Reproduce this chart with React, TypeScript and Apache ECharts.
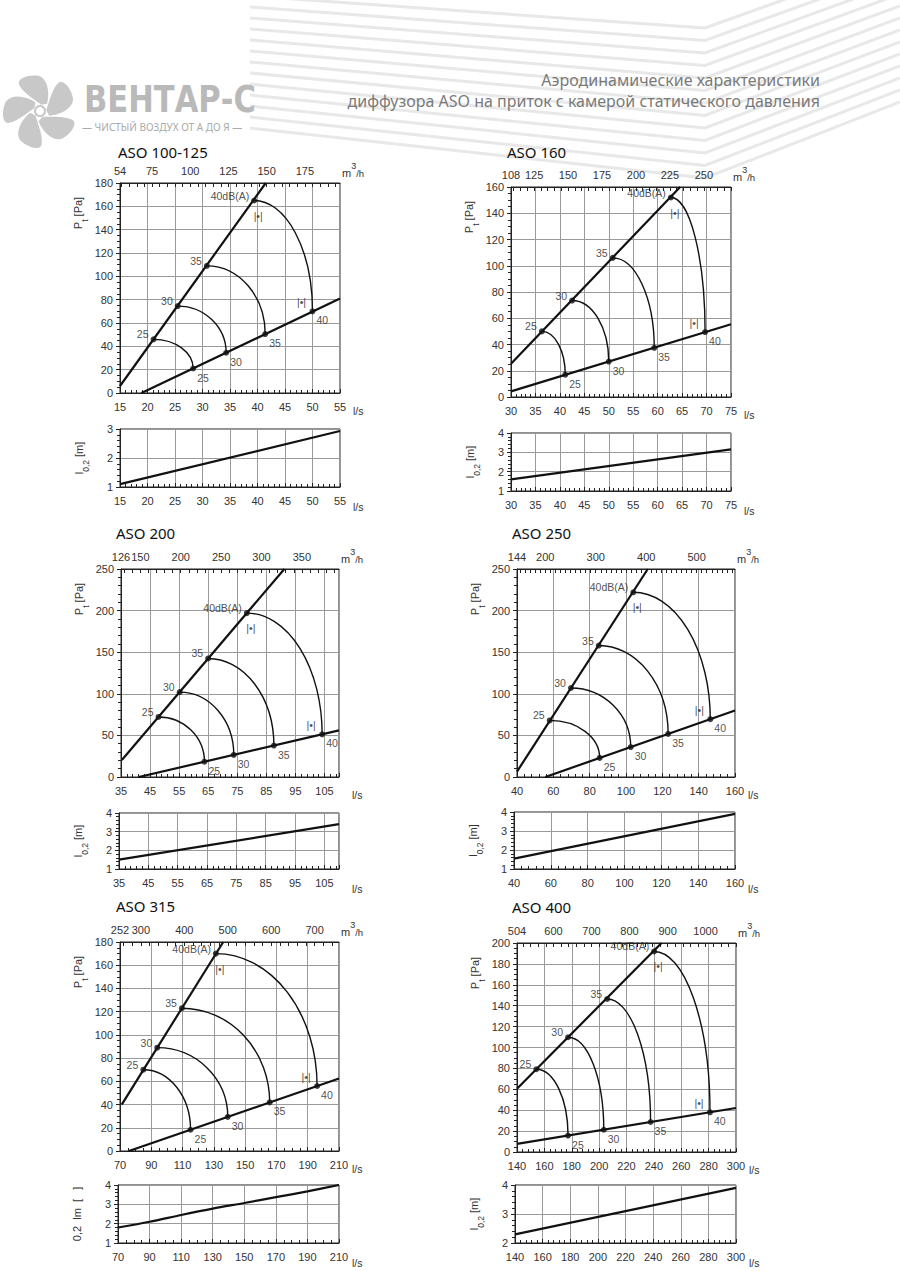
import React, { useEffect, useRef } from "react";
import * as echarts from "echarts";

const AXIS_FONT = "'Liberation Sans', Arial, sans-serif";
const TITLE_FONT = "'Noto Sans', Inter, sans-serif";

const UPPER_LABELS = ["25", "30", "35", "40dB(A)"];
const LOWER_LABELS = ["25", "30", "35", "40"];

// ---- ASO 100-125 ----
const P1_TOP_TICKS = [54, 75, 100, 125, 150, 175];
const P1_UPPER_LINE = [[15, 6], [41.5, 180]];
const P1_LOWER_LINE = [[18.9, 0], [55, 81]];
const P1_UPPER_PTS = [[21.1, 46], [25.5, 74.5], [30.8, 109], [39.4, 165]];
const P1_LOWER_PTS = [[28.3, 21], [34.3, 34.5], [41.4, 50.5], [50, 70]];
const P1_THROW = [[15, 1.1], [55, 2.93]];

// ---- ASO 160 ----
const P2_TOP_TICKS = [108, 125, 150, 175, 200, 225, 250];
const P2_UPPER_LINE = [[30, 25.3], [64.6, 160]];
const P2_LOWER_LINE = [[30, 4.3], [75, 55.4]];
const P2_UPPER_PTS = [[36.3, 50], [42.5, 73.5], [50.8, 106], [62.7, 152]];
const P2_LOWER_PTS = [[41.1, 17], [50, 27], [59.3, 37.5], [69.7, 49.5]];
const P2_THROW = [[30, 1.6], [75, 3.15]];

// ---- ASO 200 ----
const P3_TOP_TICKS = [126, 150, 200, 250, 300, 350];
const P3_UPPER_LINE = [[35.3, 20.5], [91.2, 250]];
const P3_LOWER_LINE = [[41.1, 0], [110, 56]];
const P3_UPPER_PTS = [[47.9, 72.2], [55.2, 102], [65, 142.5], [78.3, 197]];
const P3_LOWER_PTS = [[63.7, 18.4], [73.8, 26.6], [87.6, 37.8], [104.2, 51.3]];
const P3_THROW = [[35, 1.5], [110, 3.4]];

// ---- ASO 250 ----
const P4_TOP_TICKS = [144, 200, 300, 400, 500];
const P4_UPPER_LINE = [[40, 6.5], [112, 250]];
const P4_LOWER_LINE = [[55.6, 0], [160, 80]];
const P4_UPPER_PTS = [[58, 68], [69.7, 107], [85, 158], [104, 222]];
const P4_LOWER_PTS = [[85.5, 23], [102.6, 36], [123.2, 51.8], [146.4, 69.5]];
const P4_THROW = [[40, 1.55], [160, 3.9]];

// ---- ASO 315 ----
const P5_TOP_TICKS = [252, 300, 400, 500, 600, 700];
const P5_UPPER_LINE = [[71.1, 40], [136, 180]];
const P5_LOWER_LINE = [[75.7, 0], [210, 62.5]];
const P5_UPPER_PTS = [[84.9, 70], [93.8, 89], [109.6, 123], [131.3, 170]];
const P5_LOWER_PTS = [[115.1, 18.3], [138.9, 29.4], [165.7, 41.9], [196, 56]];
const P5_THROW = [[70, 1.8], [90, 2.1], [110, 2.45], [130, 2.78], [150, 3.07], [170, 3.37], [190, 3.67], [210, 4.0]];

// ---- ASO 400 ----
const P6_TOP_TICKS = [504, 600, 700, 800, 900, 1000];
const P6_UPPER_LINE = [[140, 60.6], [245.6, 200]];
const P6_LOWER_LINE = [[140, 7.7], [300, 42.1]];
const P6_UPPER_PTS = [[154.1, 79.2], [177.3, 109.8], [205.9, 146.4], [240.2, 191.9]];
const P6_LOWER_PTS = [[177.3, 15.7], [203.4, 21.3], [237.6, 28.7], [281, 38]];
const P6_THROW = [[140, 2.3], [300, 3.9]];

const PANELS = [
  { title: "ASO 100-125", titleXY: [118, 152], main: [120, 183, 220, 210], small: [120, 429, 220, 58],
    xMin: 15, xMax: 55, xInt: 5, xMinor: 5, yMax: 180, yInt: 20, yMinor: 4, sMin: 1, sMax: 3,
    top: P1_TOP_TICKS, topStep: 5, up: P1_UPPER_LINE, low: P1_LOWER_LINE, upPts: P1_UPPER_PTS, lowPts: P1_LOWER_PTS, thr: P1_THROW, showMax: true, sName: "l" },
  { title: "ASO 160", titleXY: [507, 152], main: [511, 187, 220, 210], small: [511, 433, 220, 58],
    xMin: 30, xMax: 75, xInt: 5, xMinor: 5, yMax: 160, yInt: 20, yMinor: 4, sMin: 1, sMax: 4,
    top: P2_TOP_TICKS, topStep: 5, up: P2_UPPER_LINE, low: P2_LOWER_LINE, upPts: P2_UPPER_PTS, lowPts: P2_LOWER_PTS, thr: P2_THROW, showMax: true, sName: "l" },
  { title: "ASO 200", titleXY: [116, 533], main: [121, 569, 218, 208], small: [119, 813, 220, 56],
    xMin: 35, xMax: 110, xInt: 10, xMinor: 5, yMax: 250, yInt: 50, yMinor: 5, sMin: 1, sMax: 4,
    top: P3_TOP_TICKS, topStep: 10, up: P3_UPPER_LINE, low: P3_LOWER_LINE, upPts: P3_UPPER_PTS, lowPts: P3_LOWER_PTS, thr: P3_THROW, showMax: false, sName: "l" },
  { title: "ASO 250", titleXY: [512, 533], main: [517, 569, 218, 208], small: [514, 812, 221, 57],
    xMin: 40, xMax: 160, xInt: 20, xMinor: 5, yMax: 250, yInt: 50, yMinor: 5, sMin: 1, sMax: 4,
    top: P4_TOP_TICKS, topStep: 10, up: P4_UPPER_LINE, low: P4_LOWER_LINE, upPts: P4_UPPER_PTS, lowPts: P4_LOWER_PTS, thr: P4_THROW, showMax: true, sName: "l" },
  { title: "ASO 315", titleXY: [116, 906], main: [120, 942, 219, 209], small: [118, 1185, 221, 58],
    xMin: 70, xMax: 210, xInt: 20, xMinor: 4, yMax: 180, yInt: 20, yMinor: 4, sMin: 1, sMax: 4,
    top: P5_TOP_TICKS, topStep: 20, up: P5_UPPER_LINE, low: P5_LOWER_LINE, upPts: P5_UPPER_PTS, lowPts: P5_LOWER_PTS, thr: P5_THROW, showMax: true, sName: "broken" },
  { title: "ASO 400", titleXY: [512, 907], main: [517, 943, 219, 209], small: [515, 1185, 221, 58],
    xMin: 140, xMax: 300, xInt: 20, xMinor: 5, yMax: 200, yInt: 20, yMinor: 4, sMin: 2, sMax: 4,
    top: P6_TOP_TICKS, topStep: 20, up: P6_UPPER_LINE, low: P6_LOWER_LINE, upPts: P6_UPPER_PTS, lowPts: P6_LOWER_PTS, thr: P6_THROW, showMax: true, sName: "l" },
];

const BLADE_D = "M 2 -6 C -6 -14 -16 -23 -17 -30 C -17 -36 -5 -38 4 -35 C 12 -31 13 -17 8 -6 Z";
echarts.graphic.registerShape("fanblade", echarts.graphic.extendPath(BLADE_D, {}));

const INK = "#111";
const GRID_LINE = "#9a9a9a";
const LABEL_COLOR = "#222";

function mkGrid(r: number[]) {
  return { left: r[0], top: r[1], width: r[2], height: r[3], show: true, borderColor: "#222", borderWidth: 1, backgroundColor: "transparent" };
}

function bottomX(gridIndex: number, p: any) {
  return {
    type: "value", gridIndex, position: "bottom", min: p.xMin, max: p.xMax, interval: p.xInt,
    axisLine: { show: true, lineStyle: { color: "#222", width: 1 } },
    axisTick: { show: true, inside: true, length: 4, lineStyle: { color: "#222" } },
    minorTick: { show: true, splitNumber: p.xMinor, length: 3, lineStyle: { color: "#222" } },
    splitLine: { show: true, lineStyle: { color: GRID_LINE, width: 1 } },
    axisLabel: { color: "#333", fontSize: 11, fontFamily: AXIS_FONT, margin: 8, showMaxLabel: p.showMax, showMinLabel: true, formatter: (v: number) => String(v) },
  };
}

function topX(gridIndex: number, p: any) {
  const lo = Math.round(p.xMin * 3.6 * 1000) / 1000;
  const hi = Math.round(p.xMax * 3.6 * 1000) / 1000;
  const set = new Set<number>(p.top);
  for (let t = Math.ceil(lo / p.topStep) * p.topStep; t <= hi; t += p.topStep) set.add(t);
  const ticks = Array.from(set).sort((a, b) => a - b);
  return {
    type: "value", gridIndex, position: "top", min: lo, max: hi,
    axisLine: { show: true, lineStyle: { color: "#222", width: 1 } },
    axisTick: { show: true, inside: true, length: 4, customValues: ticks, lineStyle: { color: "#222" } },
    splitLine: { show: false },
    axisLabel: { color: "#333", fontSize: 11, fontFamily: AXIS_FONT, margin: 7, customValues: p.top, showMaxLabel: true, showMinLabel: true, formatter: (v: number) => String(v) },
  };
}

function leftY(gridIndex: number, min: number, max: number, interval: number, minor: number) {
  return {
    type: "value", gridIndex, min, max, interval,
    axisLine: { show: true, lineStyle: { color: "#222", width: 1 } },
    axisTick: { show: true, length: 4, lineStyle: { color: "#222" } },
    minorTick: { show: true, splitNumber: minor, length: 3, lineStyle: { color: "#222" } },
    splitLine: { show: true, lineStyle: { color: GRID_LINE, width: 1 } },
    axisLabel: { color: "#333", fontSize: 11, fontFamily: AXIS_FONT, margin: 7, formatter: (v: number) => String(v) },
  };
}

function buildOption() {
  const grid: any[] = [];
  const xAxis: any[] = [];
  const yAxis: any[] = [];
  const series: any[] = [];
  const graphic: any[] = [];

  // background chevron stripes
  for (let k = 0; k < 13; k++) {
    graphic.push({
      type: "polyline", z: -10, silent: true,
      shape: { points: [[250, k * 11 - 4], [705, 28 + k * 12.5], [900, -42 + k * 12]] },
      style: { stroke: "#e8e8e8", lineWidth: 3, fill: null },
    });
  }

  // logo fan
  const blades: any[] = [];
  for (let k = 0; k < 5; k++) {
    blades.push({ type: "fanblade", rotation: (k * 2 * Math.PI) / 5 + 0.15, style: { fill: "#c8c8c8", stroke: null } });
  }
  blades.push({ type: "circle", shape: { cx: 0, cy: 0, r: 5 }, style: { fill: "#fff", stroke: "#c8c8c8", lineWidth: 2 } });
  graphic.push({ type: "group", x: 40, y: 111, children: blades });
  graphic.push({ type: "text", x: 84, y: 99, scaleY: 1.12, style: { text: "ВЕНТАР-С", fontSize: 34, fontWeight: "bold", fontFamily: "'Liberation Sans Narrow', 'DejaVu Sans Condensed', sans-serif", fill: "#b9b9b9", textAlign: "left", textVerticalAlign: "middle" } });
  graphic.push({ type: "text", x: 82, y: 127, style: { text: "— ЧИСТЫЙ ВОЗДУХ ОТ А ДО Я —", fontSize: 10, fontFamily: TITLE_FONT, fill: "#aaaaaa", textAlign: "left", textVerticalAlign: "middle" } });
  graphic.push({ type: "text", x: 820, y: 80, style: { text: "Аэродинамические характеристики", fontSize: 16, fontFamily: TITLE_FONT, fill: "#7a7a7a", textAlign: "right", textVerticalAlign: "middle" } });
  graphic.push({ type: "text", x: 820, y: 101, style: { text: "диффузора ASO на приток с камерой статического давления", fontSize: 16, fontFamily: TITLE_FONT, fill: "#7a7a7a", textAlign: "right", textVerticalAlign: "middle" } });

  const subRich = {
    a: { fontSize: 11, lineHeight: 17, verticalAlign: "top", fontFamily: AXIS_FONT, fill: "#333" },
    s: { fontSize: 8.5, lineHeight: 17, verticalAlign: "bottom", fontFamily: AXIS_FONT, fill: "#333" },
  };
  const supRich = {
    m: { fontSize: 11, lineHeight: 17, verticalAlign: "bottom", fontFamily: AXIS_FONT, fill: "#333" },
    u: { fontSize: 9, lineHeight: 17, verticalAlign: "top", fontFamily: AXIS_FONT, fill: "#333" },
    h: { fontSize: 9.5, lineHeight: 17, verticalAlign: "bottom", fontFamily: AXIS_FONT, fill: "#333" },
  };

  PANELS.forEach((p, i) => {
    const gMain = i * 2;
    const gSmall = i * 2 + 1;
    grid.push(mkGrid(p.main), mkGrid(p.small));
    const xb = xAxis.length; xAxis.push(bottomX(gMain, p));
    xAxis.push(topX(gMain, p));
    const xs = xAxis.length; xAxis.push(bottomX(gSmall, p));
    const ym = yAxis.length; yAxis.push(leftY(gMain, 0, p.yMax, p.yInt, p.yMinor));
    const ys = yAxis.length; yAxis.push(leftY(gSmall, p.sMin, p.sMax, 1, 5));

    const lineStyle = { color: INK, width: 2.2 };
    const lbl = { fontSize: 10.5, color: LABEL_COLOR, fontFamily: AXIS_FONT, textBorderWidth: 0 };
    series.push({ type: "line", xAxisIndex: xb, yAxisIndex: ym, data: p.up, symbol: "none", lineStyle, itemStyle: { color: INK }, silent: true, z: 3, clip: true });
    series.push({ type: "line", xAxisIndex: xb, yAxisIndex: ym, data: p.low, symbol: "none", lineStyle, itemStyle: { color: INK }, silent: true, z: 3, clip: true });
    series.push({
      type: "custom", xAxisIndex: xb, yAxisIndex: ym, silent: true, clip: true, z: 3, itemStyle: { color: INK },
      data: p.upPts.map((u: number[], k: number) => [u[0], u[1], p.lowPts[k][0], p.lowPts[k][1]]),
      encode: { x: [0, 2], y: [1, 3] },
      renderItem: (_params: any, api: any) => {
        const a = api.coord([api.value(0), api.value(1)]);
        const b = api.coord([api.value(2), api.value(3)]);
        const rx = Math.abs(b[0] - a[0]);
        const ry = Math.abs(b[1] - a[1]);
        return {
          type: "path",
          shape: { pathData: `M${a[0]} ${a[1]} A${rx} ${ry} 0 0 1 ${b[0]} ${b[1]}` },
          style: { stroke: INK, fill: "none", lineWidth: 1.4 },
        };
      },
    });
    series.push({
      type: "scatter", xAxisIndex: xb, yAxisIndex: ym, symbolSize: 6, itemStyle: { color: INK }, silent: true, z: 5,
      data: p.upPts.map((v: number[], k: number) => ({ value: v, name: UPPER_LABELS[k] })),
      label: { show: true, position: "left", distance: 2, offset: [0, -5], formatter: "{b}", ...lbl },
    });
    series.push({
      type: "scatter", xAxisIndex: xb, yAxisIndex: ym, symbolSize: 6, itemStyle: { color: INK }, silent: true, z: 5,
      data: p.lowPts.map((v: number[], k: number) => ({ value: v, name: LOWER_LABELS[k] })),
      label: { show: true, position: "right", distance: 2, offset: [-1, 9], formatter: "{b}", ...lbl },
    });
    series.push({
      type: "scatter", xAxisIndex: xb, yAxisIndex: ym, symbolSize: 0, itemStyle: { color: INK }, silent: true, z: 5,
      data: [
        { value: p.upPts[3], label: { offset: [4, 15], ...lbl } },
        { value: p.lowPts[3], label: { offset: [-11, -9], ...lbl } },
      ],
      label: { show: true, position: "inside", formatter: "|•|", ...lbl, fontSize: 10 },
    });
    series.push({ type: "line", xAxisIndex: xs, yAxisIndex: ys, data: p.thr, symbol: "none", lineStyle, itemStyle: { color: INK }, silent: true, z: 3, smooth: p.thr.length > 2 ? 0.3 : false });

    const [ml, mt, mw, mh] = p.main;
    const [sl, st, sw, sh] = p.small;
    graphic.push({ type: "text", x: p.titleXY[0], y: p.titleXY[1], style: { text: p.title, fontSize: 15, fontFamily: TITLE_FONT, fill: "#111", textAlign: "left", textVerticalAlign: "middle" } });
    graphic.push({ type: "text", x: ml - 39, y: mt + 30, rotation: Math.PI / 2, style: { text: "{a|P}{s|t}{a| [Pa]}", rich: subRich, textAlign: "center", textVerticalAlign: "middle" } });
    const sText = p.sName === "broken" ? "{a|0,2  lm  [   ]}" : "{a|l}{s|0,2}{a| [m]}";
    graphic.push({ type: "text", x: sl - 38, y: st + sh / 2, rotation: Math.PI / 2, style: { text: sText, rich: subRich, textAlign: "center", textVerticalAlign: "middle" } });
    graphic.push({ type: "text", x: ml + mw + 2, y: mt - 13, style: { text: "{m|m}{u|3}{h|/h}", rich: supRich, textAlign: "left", textVerticalAlign: "middle" } });
    graphic.push({ type: "text", x: ml + mw + 13, y: mt + mh + 18, style: { text: "l/s", fontSize: 10.5, fontFamily: AXIS_FONT, fill: "#333", textAlign: "left", textVerticalAlign: "middle" } });
    graphic.push({ type: "text", x: sl + sw + 13, y: st + sh + 20, style: { text: "l/s", fontSize: 10.5, fontFamily: AXIS_FONT, fill: "#333", textAlign: "left", textVerticalAlign: "middle" } });
  });

  return { animation: false, backgroundColor: "#ffffff", grid, xAxis, yAxis, series, graphic };
}

export default function App() {
  const ref = useRef<HTMLDivElement>(null);
  useEffect(() => {
    document.body.style.margin = "0";
    if (!ref.current) return;
    const chart = echarts.init(ref.current, undefined, { renderer: "svg" });
    chart.setOption(buildOption() as any);
    return () => chart.dispose();
  }, []);
  return <div ref={ref} style={{ width: 900, height: 1271 }} />;
}
